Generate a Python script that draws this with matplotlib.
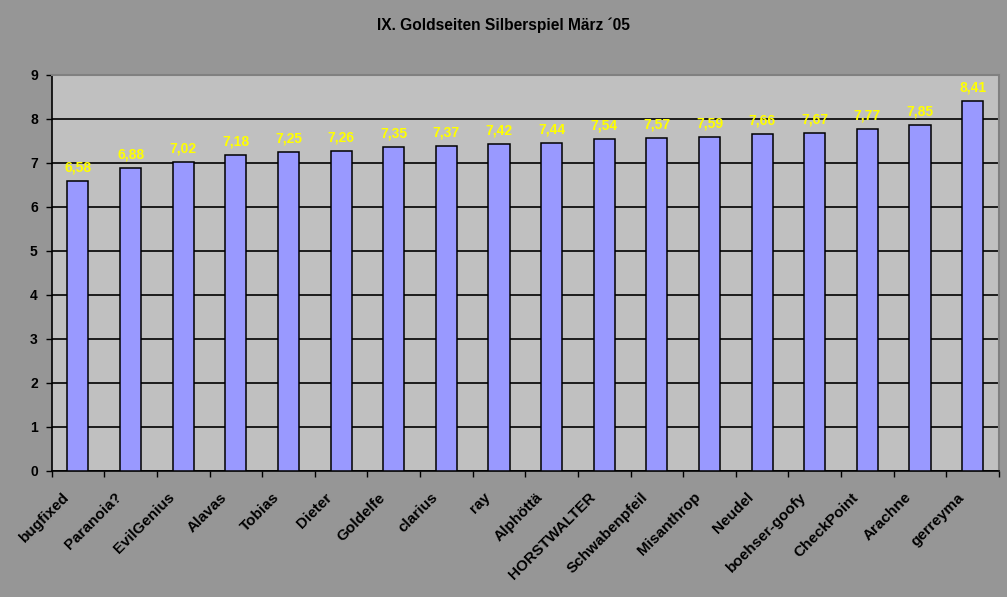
import matplotlib
matplotlib.use("Agg")
import matplotlib.pyplot as plt
import matplotlib.transforms as mtransforms
import numpy as np

plt.rcParams['font.family'] = ['Liberation Sans', 'DejaVu Sans']

names = ["bugfixed", "Paranoia?", "EvilGenius", "Alavas", "Tobias", "Dieter",
         "Goldelfe", "clarius", "ray", "Alphöttä", "HORSTWALTER", "Schwabenpfeil",
         "Misanthrop", "Neudel", "boehser-goofy", "CheckPoint", "Arachne", "gerreyma"]
scores = [6.58, 6.88, 7.02, 7.18, 7.25, 7.26, 7.35, 7.37, 7.42, 7.44,
          7.54, 7.57, 7.59, 7.66, 7.67, 7.77, 7.85, 8.41]
y_ticks = [0, 1, 2, 3, 4, 5, 6, 7, 8, 9]

fig = plt.figure(figsize=(10.07, 5.97), dpi=100)
fig.patch.set_facecolor('#969696')
ax = fig.add_axes([0.0513, 0.2111, 0.9407, 0.6638])
ax.set_facecolor('#C0C0C0')

x = np.arange(len(names))
ax.bar(x, scores, width=0.4, color='#9999FF', edgecolor='black', linewidth=1.1, zorder=3)

# value labels above the bars
for xi, v in zip(x, scores):
    ax.text(xi, v + 0.15, f"{v:.2f}".replace('.', ','), ha='center', va='bottom',
            color='#FFFF00', fontsize=10, fontweight='bold', zorder=4)

ax.set_xlim(-0.5, len(names) - 0.5)
ax.set_ylim(0, 9)
ax.set_yticks(y_ticks)
ax.yaxis.grid(True, color='black', linewidth=1.2, zorder=1)
ax.set_axisbelow(True)

ax.set_xticks(x)
ax.set_xticklabels(names, rotation=45, ha='right', va='bottom', rotation_mode='anchor',
                   fontsize=11, fontweight='bold')
ax.tick_params(axis='x', length=0, pad=21)
shift = mtransforms.ScaledTranslation(-6 / 100, 0, fig.dpi_scale_trans)
for lbl in ax.get_xticklabels():
    lbl.set_transform(lbl.get_transform() + shift)
ax.set_xticks(np.arange(-0.5, len(names)), minor=True)
ax.tick_params(axis='x', which='minor', length=4, width=1, color='black', direction='out')
ax.tick_params(axis='y', length=4, width=1, direction='out', labelsize=10, pad=6)
for lbl in ax.get_yticklabels():
    lbl.set_fontweight('bold')

for s in ['left', 'bottom']:
    ax.spines[s].set_color('black')
    ax.spines[s].set_linewidth(1.2)
for s in ['top', 'right']:
    ax.spines[s].set_color('#808080')
    ax.spines[s].set_linewidth(1.5)

fig.text(0.5, 0.958, "IX. Goldseiten Silberspiel März ´05", ha='center', va='center',
         fontsize=11.2, fontweight='bold')

fig.savefig("out.png", dpi=100, facecolor=fig.get_facecolor())
